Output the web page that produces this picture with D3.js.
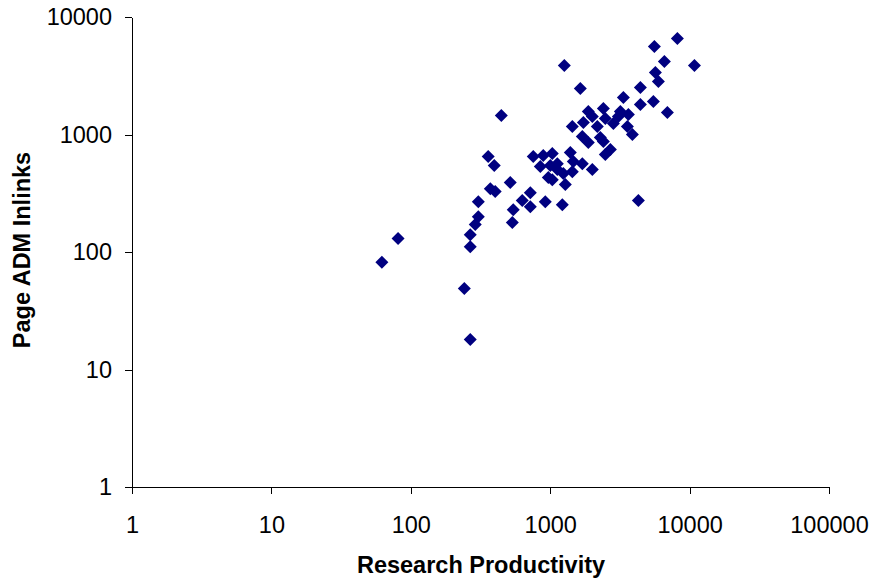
<!DOCTYPE html>
<html>
<head>
<meta charset="utf-8">
<script src="https://cdn.jsdelivr.net/npm/d3@7"></script>
<style>
  body { margin: 0; background: #fff; }
  svg text { font-family: "Liberation Sans", Arial, sans-serif; fill: #000; }
  .axis path, .axis line { stroke: #000; stroke-width: 1; shape-rendering: crispEdges; }
  .axis text { font-size: 23.5px; }
  .title { font-size: 23.5px; font-weight: bold; }
</style>
</head>
<body>
<div id="chart"></div>
<script>
// research productivity (x) and page ADM inlinks (y)
var productivity = [62, 81, 242, 267, 267, 267, 290, 305, 305, 359, 397, 372, 403, 446,
  517, 543, 535, 630, 720, 720, 756, 892, 1035, 1394, 849, 1002, 1125, 969, 1242, 1283,
  1441, 1700, 2005, 922, 1221, 4290, 1262, 1645, 1441, 1729, 2178, 2838, 1877, 2406,
  2486, 3186, 3637, 3348, 4436, 5497, 6928, 3577, 3885, 1700, 1877, 2406, 2701, 2486,
  4436, 5589, 8173, 6594, 10827, 5682, 5970, 1125, 1465, 2289, 2005, 1035, 3083];
var inlinks = [82, 130, 49, 18, 111, 140, 171, 200, 268, 649, 544, 346, 327, 1450,
  390, 229, 178, 274, 320, 243, 649, 662, 688, 702, 533, 544, 503, 430, 465, 375,
  483, 565, 503, 268, 253, 274, 3870, 2464, 1169, 1264, 1169, 1240, 1569, 1664,
  1368, 1569, 1479, 2064, 1800, 1909, 1539, 1169, 999, 960, 854, 871, 744, 675,
  2512, 5617, 6570, 4183, 3870, 3373, 2827, 565, 588, 942, 1422, 413, 1422];

var xTicks = [1, 10, 100, 1000, 10000, 100000];
var yTicks = [1, 10, 100, 1000, 10000];

var width = 875, height = 579;
var margin = {top: 17, right: 46, bottom: 92, left: 132};

var svg = d3.select("#chart").append("svg")
    .attr("width", width)
    .attr("height", height);

var x = d3.scaleLog()
    .domain([1, 100000])
    .range([margin.left, width - margin.right]);

var y = d3.scaleLog()
    .domain([1, 10000])
    .range([height - margin.bottom, margin.top]);

// x axis
svg.append("g")
    .attr("class", "axis")
    .attr("transform", "translate(0," + (height - margin.bottom) + ")")
    .call(d3.axisBottom(x).tickValues(xTicks).tickFormat(d3.format("d"))
      .tickSize(7).tickSizeOuter(0).tickPadding(22));

// y axis
svg.append("g")
    .attr("class", "axis")
    .attr("transform", "translate(" + margin.left + ",0)")
    .call(d3.axisLeft(y).tickValues(yTicks).tickFormat(d3.format("d"))
      .tickSize(7).tickSizeOuter(0).tickPadding(13));

d3.selectAll(".axis .domain").attr("fill", "none");

// diamond markers
var diamond = "M0,-6.5L6.5,0L0,6.5L-6.5,0Z";
svg.append("g")
  .selectAll("path")
    .data(productivity.map(function(d, i) { return [d, inlinks[i]]; }))
  .enter().append("path")
    .attr("d", diamond)
    .attr("transform", function(d) { return "translate(" + x(d[0]) + "," + y(d[1]) + ")"; })
    .attr("fill", "#000080");

// axis titles
svg.append("text")
    .attr("class", "title")
    .attr("text-anchor", "middle")
    .attr("x", 481)
    .attr("y", 573)
    .text("Research Productivity");

svg.append("text")
    .attr("class", "title")
    .attr("text-anchor", "middle")
    .attr("transform", "translate(30,250) rotate(-90)")
    .text("Page ADM Inlinks");
</script>
</body>
</html>
